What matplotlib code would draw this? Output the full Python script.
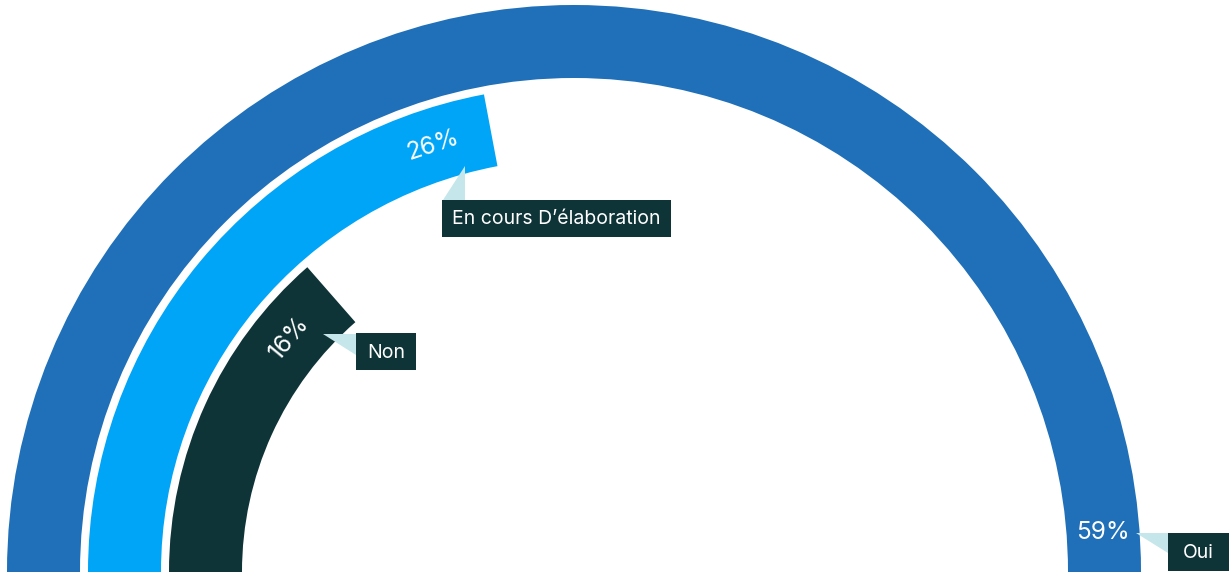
import numpy as np
import matplotlib
matplotlib.use("Agg")
import matplotlib.pyplot as plt
from matplotlib.patches import Wedge, Rectangle, Polygon

plt.rcParams['font.family'] = ['Inter', 'DejaVu Sans']

# survey answers, outer ring first
categories = ['Oui', "En cours D\u2019élaboration", 'Non']
values = [59, 26, 16]
colors = ['#1f70b9', '#00a5f8', '#0e3438']

# largest answer fills the half circle
vmax = max(values)

W, H = 1229, 574
fig = plt.figure(figsize=(W / 100, H / 100), dpi=100)
ax = fig.add_axes([0, 0, 1, 1])
ax.set_xlim(0, W)
ax.set_ylim(H, 0)
ax.axis('off')

cx, cy = 574, 572
ring_w = 73
gap = 8
r_out = 567

box_col = '#0e3438'
tip_col = '#c5e6ea'

# callout boxes: (x, y, w, h) and pointer triangle, in pixels
callouts = [
    dict(box=(1168, 533, 61, 38), tri=[(1136, 533), (1168, 533), (1168, 553)]),
    dict(box=(442, 200, 229, 37), tri=[(443, 200), (465, 200), (465, 166)]),
    dict(box=(356, 333, 60, 37), tri=[(323, 334), (356, 334), (356, 355)]),
]

for i, (cat, v, c) in enumerate(zip(categories, values, colors)):
    r = r_out - i * (ring_w + gap)
    sweep = v / vmax * 180
    ax.add_patch(Wedge((cx, cy), r, 180, 180 + sweep, width=ring_w,
                       facecolor=c, edgecolor='none'))

    r_mid = r - ring_w / 2
    if sweep >= 179:
        # label at the far end stays horizontal
        phi = 180 + sweep - np.degrees(40 / r_mid)
        rot = 0
    else:
        phi = 180 + sweep - np.degrees(60 / r_mid)
        rot = 270 - phi
    tx = cx + r_mid * np.cos(np.radians(phi))
    ty = cy + r_mid * np.sin(np.radians(phi))
    ax.text(tx, ty, f'{v}%', color='white', fontsize=17.5, rotation=rot,
            rotation_mode='anchor', ha='center', va='center')

    co = callouts[i]
    ax.add_patch(Polygon(co['tri'], closed=True, facecolor=tip_col,
                         edgecolor='none'))
    bx, by, bw, bh = co['box']
    ax.add_patch(Rectangle((bx, by), bw, bh, facecolor=box_col,
                           edgecolor='none'))
    ax.text(bx + bw / 2, by + bh / 2 + 1, cat, color='white', fontsize=14,
            ha='center', va='center')

fig.savefig('out.png', dpi=100)
